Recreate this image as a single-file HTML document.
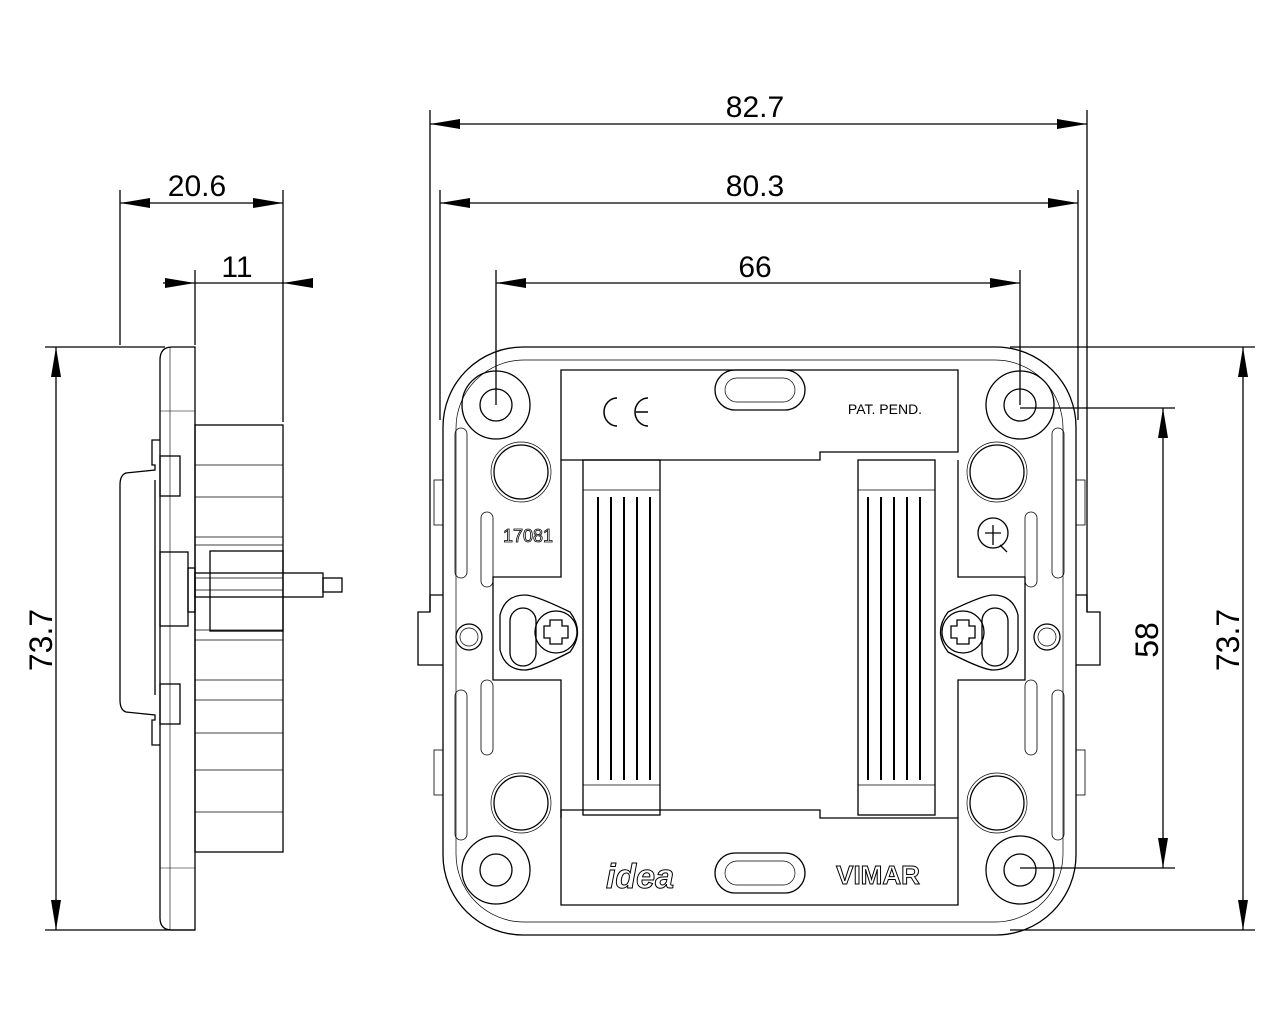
<!DOCTYPE html>
<html><head><meta charset="utf-8"><style>
html,body{margin:0;padding:0;background:#fff;}
svg{display:block;}
text{font-family:"Liberation Sans",sans-serif;}
</style></head><body>
<svg width="1280" height="1024" viewBox="0 0 1280 1024" xmlns="http://www.w3.org/2000/svg">
<defs>
<marker id="a" viewBox="0 0 30 10" refX="30" refY="5" markerWidth="30" markerHeight="10" markerUnits="userSpaceOnUse" orient="auto-start-reverse"><path d="M0,0 L30,5 L0,10 z" fill="#000"/></marker>
</defs>
<g stroke="#000" fill="none" stroke-width="1.3">
<!-- extension lines -->
<line x1="430" y1="110" x2="430" y2="612"/>
<line x1="1087" y1="110" x2="1087" y2="612"/>
<line x1="440" y1="190" x2="440" y2="420"/>
<line x1="1078" y1="190" x2="1078" y2="420"/>
<line x1="496" y1="270" x2="496" y2="405"/>
<line x1="1020" y1="270" x2="1020" y2="405"/>
<line x1="120" y1="190" x2="120" y2="345"/>
<line x1="283" y1="190" x2="283" y2="422"/>
<line x1="195" y1="270" x2="195" y2="345"/>
<line x1="45" y1="347" x2="165" y2="347"/>
<line x1="45" y1="930" x2="195" y2="930"/>
<line x1="1010" y1="347" x2="1255" y2="347"/>
<line x1="1010" y1="930" x2="1255" y2="930"/>
<line x1="1020" y1="408" x2="1175" y2="408"/>
<line x1="1020" y1="868" x2="1175" y2="868"/>
<!-- dimension lines -->
<line x1="430" y1="124" x2="1087" y2="124" marker-start="url(#a)" marker-end="url(#a)"/>
<line x1="440" y1="203" x2="1078" y2="203" marker-start="url(#a)" marker-end="url(#a)"/>
<line x1="496" y1="283" x2="1020" y2="283" marker-start="url(#a)" marker-end="url(#a)"/>
<line x1="120" y1="203" x2="283" y2="203" marker-start="url(#a)" marker-end="url(#a)"/>
<line x1="163" y1="283" x2="195" y2="283" marker-end="url(#a)"/>
<line x1="313" y1="283" x2="283" y2="283" marker-end="url(#a)"/>
<line x1="195" y1="283" x2="283" y2="283"/>
<line x1="56" y1="347" x2="56" y2="930" marker-start="url(#a)" marker-end="url(#a)"/>
<line x1="1243" y1="347" x2="1243" y2="930" marker-start="url(#a)" marker-end="url(#a)"/>
<line x1="1163" y1="408" x2="1163" y2="868" marker-start="url(#a)" marker-end="url(#a)"/>

<!-- side view -->
<path d="M195,347 H172 Q160,347 160,360 V918 Q160,930 172,930 H195 Z"/>
<line x1="170" y1="347" x2="170" y2="930" stroke-width="0.6"/>
<line x1="160" y1="411" x2="195" y2="411" stroke-width="0.6"/>
<line x1="160" y1="868" x2="195" y2="868" stroke-width="0.6"/>
<rect x="195" y="425" width="88" height="427"/>
<g stroke-width="0.8">
<line x1="195" y1="465" x2="283" y2="465"/><line x1="195" y1="497" x2="283" y2="497"/>
<line x1="195" y1="537" x2="283" y2="537"/><line x1="195" y1="545" x2="283" y2="545"/>
<line x1="195" y1="578" x2="283" y2="578"/><line x1="195" y1="590" x2="283" y2="590"/>
<line x1="195" y1="630" x2="283" y2="630"/><line x1="195" y1="640" x2="283" y2="640"/>
<line x1="195" y1="680" x2="283" y2="680"/><line x1="195" y1="700" x2="283" y2="700"/>
<line x1="195" y1="733" x2="283" y2="733"/><line x1="195" y1="770" x2="283" y2="770"/>
<line x1="195" y1="812" x2="283" y2="812"/>
</g>
<rect x="210" y="551" width="73" height="80"/>
<rect x="195" y="573" width="128" height="24"/>
<rect x="323" y="578" width="19" height="14"/>
<rect x="160" y="552" width="28" height="74"/>
<rect x="188" y="568" width="7" height="44"/>
<rect x="160" y="456" width="20" height="40"/>
<rect x="160" y="684" width="20" height="40"/>
<path d="M160,440 H152 V465 H155 V470 L126,473 Q120,475 120,485 V700 Q120,710 126,712 L155,715 V720 H152 V745 H160"/>
<line x1="155" y1="480" x2="155" y2="695"/>

<!-- front plate -->
<rect x="443" y="347" width="633" height="588" rx="80"/>
<rect x="456" y="360" width="607" height="562" rx="68" stroke-width="0.7"/>
<!-- side tabs -->
<rect x="434" y="480" width="9" height="45" stroke-width="0.8"/>
<rect x="1076" y="480" width="9" height="45" stroke-width="0.8"/>
<rect x="434" y="750" width="9" height="45" stroke-width="0.8"/>
<rect x="1076" y="750" width="9" height="45" stroke-width="0.8"/>
<path d="M443,595 H430 V612 H418 V665 H443"/>
<path d="M1076,595 H1087 V612 H1100 V665 H1076"/>
<!-- slots -->
<rect x="455" y="428" width="12" height="150" rx="6" stroke-width="0.8"/>
<rect x="455" y="690" width="12" height="150" rx="6" stroke-width="0.8"/>
<rect x="1052" y="428" width="12" height="150" rx="6" stroke-width="0.8"/>
<rect x="1052" y="690" width="12" height="150" rx="6" stroke-width="0.8"/>
<rect x="481" y="512" width="12" height="75" rx="6" stroke-width="0.8"/>
<rect x="1025" y="512" width="12" height="75" rx="6" stroke-width="0.8"/>
<rect x="481" y="680" width="12" height="75" rx="6" stroke-width="0.8"/>
<rect x="1025" y="680" width="12" height="75" rx="6" stroke-width="0.8"/>
<!-- top/bottom bars -->
<path d="M561,370 H958 V452 H820 V460 H561 Z"/>
<path d="M561,905 H958 V818 H820 V810 H561 Z"/>
<rect x="715" y="370" width="90" height="40" rx="20"/>
<rect x="725" y="378" width="70" height="24" rx="12" stroke-width="0.7"/>
<rect x="715" y="853" width="90" height="40" rx="20"/>
<rect x="725" y="861" width="70" height="24" rx="12" stroke-width="0.7"/>
<!-- inner frame lines -->
<path d="M561,460 V577 H493 V680 H561 V818"/>
<path d="M958,460 V577 H1025 V680 H958 V818"/>
<!-- grills -->
<rect x="583" y="460" width="77" height="355"/>
<rect x="858" y="460" width="77" height="355"/>
<line x1="583" y1="490" x2="660" y2="490" stroke-width="0.8"/>
<line x1="583" y1="785" x2="660" y2="785" stroke-width="0.8"/>
<line x1="858" y1="490" x2="935" y2="490" stroke-width="0.8"/>
<line x1="858" y1="785" x2="935" y2="785" stroke-width="0.8"/>
<g stroke-width="2">
<path d="M598,497 V780 M611,497 V780 M624,497 V780 M637,497 V780 M650,497 V780"/>
<path d="M868,497 V780 M881,497 V780 M894,497 V780 M907,497 V780 M920,497 V780"/>
</g>
<!-- holes -->
<circle cx="496" cy="405" r="34"/><circle cx="496" cy="405" r="16"/>
<circle cx="1020" cy="405" r="34"/><circle cx="1020" cy="405" r="16"/>
<circle cx="496" cy="870" r="34"/><circle cx="496" cy="870" r="16"/>
<circle cx="1020" cy="870" r="34"/><circle cx="1020" cy="870" r="16"/>
<circle cx="521" cy="472" r="30" stroke-width="0.7"/><circle cx="521" cy="472" r="27"/>
<circle cx="997" cy="472" r="30" stroke-width="0.7"/><circle cx="997" cy="472" r="27"/>
<circle cx="521" cy="803" r="30" stroke-width="0.7"/><circle cx="521" cy="803" r="27"/>
<circle cx="997" cy="803" r="30" stroke-width="0.7"/><circle cx="997" cy="803" r="27"/>
<circle cx="469" cy="637" r="13"/><circle cx="469" cy="637" r="9" stroke-width="0.7"/>
<circle cx="1047" cy="637" r="13"/><circle cx="1047" cy="637" r="9" stroke-width="0.7"/>
<!-- screw lobes -->
<path d="M500,615 Q505,595 525,595 Q535,595 570,612 Q585,632 570,652 Q535,670 525,670 Q505,670 500,650 Z"/>
<rect x="510" y="608" width="26" height="58" rx="13"/>
<circle cx="556" cy="632" r="21"/>
<path d="M550,620 H562 V626 H568 V638 H562 V644 H550 V638 H544 V626 H550 Z"/>
<path d="M1018,615 Q1013,595 993,595 Q983,595 948,612 Q933,632 948,652 Q983,670 993,670 Q1013,670 1018,650 Z"/>
<rect x="982" y="608" width="26" height="58" rx="13"/>
<circle cx="963" cy="632" r="21"/>
<path d="M957,620 H969 V626 H975 V638 H969 V644 H957 V638 H951 V626 H957 Z"/>
<!-- CE -->
<path d="M617,398 A13,14 0 1 0 617,426" stroke-width="1.5"/>
<path d="M648,398 A13,14 0 1 0 648,426 M636,412 H648" stroke-width="1.5"/>
<!-- IMQ mark -->
<circle cx="993" cy="533" r="15"/>
<path d="M985,533 H1001 M993,525 V545 M1000,545 L1007,552"/>
</g>
<g fill="#000">
<text x="755" y="117" font-size="30" text-anchor="middle">82.7</text>
<text x="755" y="196" font-size="30" text-anchor="middle">80.3</text>
<text x="755" y="277" font-size="30" text-anchor="middle">66</text>
<text x="197" y="196" font-size="30" text-anchor="middle">20.6</text>
<text x="237" y="277" font-size="30" text-anchor="middle">11</text>
<text transform="translate(52,640) rotate(-90)" font-size="32" text-anchor="middle">73.7</text>
<text transform="translate(1158,640) rotate(-90)" font-size="32" text-anchor="middle">58</text>
<text transform="translate(1239,640) rotate(-90)" font-size="32" text-anchor="middle">73.7</text>
<text x="885" y="414" font-size="14" text-anchor="middle">PAT. PEND.</text>
<text x="528" y="542" font-size="18" text-anchor="middle" fill="none" stroke="#000" stroke-width="0.8">17081</text>
<text x="878" y="884" font-size="26" font-weight="bold" text-anchor="middle" fill="#fff" stroke="#000" stroke-width="1">VIMAR</text>
<text x="640" y="888" font-size="34" font-style="italic" font-weight="bold" text-anchor="middle" fill="#fff" stroke="#000" stroke-width="1" font-family="Liberation Serif">idea</text>
</g>
</svg>
</body></html>
